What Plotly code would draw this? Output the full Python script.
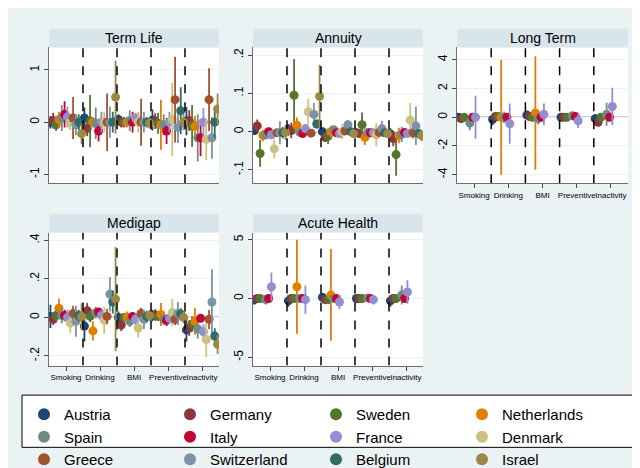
import plotly.graph_objects as go

countries = ["Austria", "Germany", "Sweden", "Netherlands", "Spain", "Italy",
             "France", "Denmark", "Greece", "Switzerland", "Belgium", "Israel"]
colors = ["#1a476f", "#90353b", "#55752f", "#e37e00", "#6e8e84", "#c10534",
          "#938dd2", "#cac27e", "#a0522d", "#7b92a8", "#2d6d66", "#9c8847"]
groups = ["Smoking", "Drinking", "BMI", "Preventive", "Inactivity"]

# estimates / CI half-widths, rows = groups, columns = countries (None = not estimated)
term_est = [
    [0.0, 0.03, -0.05, 0.05, 0.08, 0.15, 0.1, 0.0, 0.08, -0.05, 0.0, -0.22],
    [0.08, -0.12, 0.02, 0.0, -0.02, -0.17, 0.0, 0.0, 0.0, 0.0, 0.0, 0.48],
    [0.05, 0.0, 0.0, 0.0, 0.03, 0.0, 0.08, 0.0, 0.0, 0.0, 0.0, -0.02],
    [0.04, 0.02, -0.02, -0.05, -0.05, -0.17, 0.0, 0.05, 0.43, -0.1, 0.22, 0.0],
    [0.02, 0.03, -0.07, -0.08, -0.3, -0.3, 0.0, -0.33, 0.43, -0.3, 0.0, 0.25],
]
term_ci = [
    [0.12, 0.15, 0.12, 0.15, 0.25, 0.25, 0.2, 0.15, 0.4, 0.2, 0.15, 0.2],
    [0.2, 0.15, 0.5, 0.1, 0.3, 0.2, 0.2, 0.2, 0.55, 0.3, 0.2, 0.7],
    [0.1, 0.1, 0.1, 0.1, 0.2, 0.2, 0.1, 0.2, 0.45, 0.2, 0.1, 0.1],
    [0.2, 0.15, 0.2, 0.48, 0.2, 0.25, 0.2, 0.7, 0.82, 0.3, 0.45, 0.15],
    [0.27, 0.2, 0.4, 0.2, 0.45, 0.35, 0.27, 0.4, 0.6, 0.4, 0.3, 0.3],
]
annuity_est = [
    [0.003, 0.015, -0.057, -0.01, -0.008, 0.0, -0.008, -0.045, -0.003, -0.003, -0.003, -0.002],
    [0.005, 0.003, 0.095, 0.017, -0.002, -0.005, 0.008, 0.052, -0.004, 0.045, 0.02, 0.092],
    [0.0, -0.015, -0.012, 0.0, 0.005, -0.003, -0.005, 0.0, 0.002, 0.018, 0.0, -0.005],
    [-0.003, -0.005, 0.018, -0.015, -0.002, -0.003, -0.003, -0.008, -0.002, 0.008, -0.003, -0.005],
    [-0.006, -0.018, -0.06, -0.01, -0.007, -0.002, -0.005, 0.03, -0.003, 0.015, -0.005, -0.01],
]
annuity_ci = [
    [0.012, 0.017, 0.035, 0.015, 0.012, 0.01, 0.01, 0.025, 0.01, 0.03, 0.015, 0.02],
    [0.015, 0.02, 0.095, 0.02, 0.01, 0.01, 0.012, 0.033, 0.01, 0.03, 0.012, 0.083],
    [0.01, 0.012, 0.02, 0.015, 0.01, 0.01, 0.01, 0.02, 0.01, 0.012, 0.01, 0.01],
    [0.01, 0.01, 0.032, 0.02, 0.01, 0.01, 0.01, 0.03, 0.01, 0.02, 0.01, 0.01],
    [0.015, 0.02, 0.055, 0.02, 0.02, 0.01, 0.01, 0.045, 0.015, 0.05, 0.01, 0.015],
]
longterm_est = [
    [0.0, -0.1, 0.0, None, -0.4, 0.0, 0.0] + [None] * 5,
    [-0.15, 0.05, 0.05, 0.0, 0.0, 0.0, -0.45] + [None] * 5,
    [0.15, 0.05, 0.0, 0.3, -0.1, 0.0, 0.2] + [None] * 5,
    [0.0, 0.0, 0.0, None, 0.1, 0.05, -0.25] + [None] * 5,
    [-0.1, -0.35, 0.0, None, 0.2, 0.0, 0.75] + [None] * 5,
]
longterm_ci = [
    [0.3, 0.25, 0.15, 0, 0.5, 0.15, 1.5] + [0] * 5,
    [0.4, 0.2, 0.15, 4.0, 0.4, 0.15, 1.4] + [0] * 5,
    [0.2, 0.15, 0.15, 3.95, 0.4, 0.15, 0.75] + [0] * 5,
    [0.15, 0.15, 0.15, 0, 0.2, 0.15, 0.5] + [0] * 5,
    [0.3, 0.25, 0.2, 0, 0.8, 0.2, 1.3] + [0] * 5,
]
acute_est = [
    [-0.1, 0.0, 0.0, None, -0.1, 0.0, 1.0] + [None] * 5,
    [-0.2, 0.0, 0.0, 1.0, 0.0, 0.0, -0.1] + [None] * 5,
    [0.1, -0.1, -0.1, 0.3, 0.0, 0.0, -0.3] + [None] * 5,
    [0.0, 0.0, 0.0, None, 0.05, 0.0, -0.1] + [None] * 5,
    [-0.2, 0.0, 0.0, None, 0.3, 0.0, 0.55] + [None] * 5,
]
acute_ci = [
    [0.4, 0.2, 0.2, 0, 0.4, 0.2, 1.2] + [0] * 5,
    [0.5, 0.2, 0.2, 4.0, 0.3, 0.2, 1.2] + [0] * 5,
    [0.3, 0.2, 0.2, 3.9, 0.3, 0.2, 0.6] + [0] * 5,
    [0.2, 0.2, 0.2, 0, 0.2, 0.2, 0.4] + [0] * 5,
    [0.5, 0.2, 0.2, 0, 0.8, 0.2, 1.0] + [0] * 5,
]
medigap_est = [
    [0.005, -0.01, 0.01, 0.048, 0.01, 0.01, 0.0, -0.03, 0.02, -0.02, 0.01, 0.003],
    [-0.045, 0.035, 0.005, -0.07, 0.025, 0.028, 0.01, -0.015, 0.005, 0.12, 0.08, 0.095],
    [0.0, -0.04, 0.0, 0.0, -0.02, 0.005, -0.01, -0.055, 0.02, -0.01, 0.005, 0.01],
    [0.01, 0.012, 0.005, 0.015, -0.01, -0.015, -0.005, 0.025, -0.01, 0.02, 0.018, 0.0],
    [-0.065, -0.055, -0.035, -0.02, -0.06, -0.005, -0.075, -0.115, -0.01, 0.08, -0.097, -0.14],
]
medigap_ci = [
    [0.06, 0.03, 0.03, 0.05, 0.04, 0.03, 0.04, 0.05, 0.04, 0.08, 0.03, 0.07],
    [0.08, 0.04, 0.03, 0.05, 0.03, 0.02, 0.03, 0.07, 0.04, 0.09, 0.06, 0.27],
    [0.03, 0.03, 0.02, 0.03, 0.03, 0.02, 0.03, 0.05, 0.03, 0.05, 0.03, 0.03],
    [0.03, 0.03, 0.02, 0.06, 0.03, 0.03, 0.03, 0.07, 0.03, 0.06, 0.03, 0.03],
    [0.06, 0.04, 0.04, 0.07, 0.05, 0.02, 0.04, 0.09, 0.05, 0.17, 0.04, 0.05],
]

W, H = 640, 468
def fx(px): return px / W
def fy(py): return 1 - py / H

panels = [
    dict(title="Term Life", est=term_est, ci=term_ci, x=(41, 211), y=(40, 178),
         yr=[-1.17, 1.43], tv=[-1, 0, 1], tt=["-1", "0", "1"], xl=False),
    dict(title="Annuity", est=annuity_est, ci=annuity_ci, x=(245, 415), y=(40, 178),
         yr=[-0.135, 0.22], tv=[-0.1, 0, 0.1, 0.2], tt=["-.1", "0", ".1", ".2"], xl=False),
    dict(title="Long Term", est=longterm_est, ci=longterm_ci, x=(449, 620), y=(40, 178),
         yr=[-4.6, 4.86], tv=[-4, -2, 0, 2, 4], tt=["-4", "-2", "0", "2", "4"], xl=True),
    dict(title="Medigap", est=medigap_est, ci=medigap_ci, x=(41, 211), y=(228, 363),
         yr=[-0.25, 0.44], tv=[-0.2, 0, 0.2, 0.4], tt=["-.2", "0", ".2", ".4"], xl=True),
    dict(title="Acute Health", est=acute_est, ci=acute_ci, x=(245, 415), y=(228, 363),
         yr=[-5.7, 5.6], tv=[-5, 0, 5], tt=["-5", "0", "5"], xl=True),
]

fig = go.Figure()
shapes, annotations = [], []
for pi, p in enumerate(panels):
    n = "" if pi == 0 else str(pi + 1)
    xa, ya = "x" + n, "y" + n
    fig.update_layout({
        "xaxis" + n: dict(domain=[fx(p["x"][0]), fx(p["x"][1])], range=[0, 5],
                          anchor=ya, showgrid=False, zeroline=False, showline=True,
                          linecolor="#6e6e6e", ticks="outside" if p["xl"] else "",
                          tickvals=[0.5, 1.5, 2.5, 3.5, 4.5], tickangle=0, automargin=False,
                          ticktext=groups if p["xl"] else [""] * 5, ticklen=4,
                          tickfont=dict(size=8, color="black")),
        "yaxis" + n: dict(domain=[fy(p["y"][1]), fy(p["y"][0])], range=p["yr"],
                          anchor=xa, tickvals=p["tv"], ticktext=p["tt"], tickangle=-90,
                          automargin=False,
                          showgrid=True, gridcolor="#eaf2f3", zeroline=False,
                          showline=True, linecolor="#6e6e6e", ticks="outside", ticklen=4,
                          tickfont=dict(size=12, color="black")),
    })
    for v in [1, 2, 3, 4]:
        shapes.append(dict(type="line", xref=xa, yref=ya, x0=v, x1=v, y0=p["yr"][0], y1=p["yr"][1],
                           line=dict(color="black", width=1.5, dash="dash")))
    shapes.append(dict(type="line", xref=xa, yref=ya, x0=0, x1=5, y0=0, y1=0,
                       line=dict(color="#c10534", width=1.2), layer="below"))
    shapes.append(dict(type="rect", xref="paper", yref="paper",
                       x0=fx(p["x"][0]), x1=fx(p["x"][1]), y0=fy(p["y"][0]), y1=fy(p["y"][0] - 19),
                       fillcolor="#d8e5ea", line=dict(width=0)))
    annotations.append(dict(text=p["title"], xref="paper", yref="paper",
                            x=(fx(p["x"][0]) + fx(p["x"][1])) / 2, y=fy(p["y"][0] - 9.5),
                            xanchor="center", yanchor="middle",
                            showarrow=False, font=dict(size=14, color="black")))
    for k, c in enumerate(countries):
        xs, ys, es = [], [], []
        for g in range(5):
            v = p["est"][g][k]
            if v is None:
                continue
            xs.append(g + (k + 0.5) / 12)
            ys.append(v)
            es.append(p["ci"][g][k])
        if not xs:
            continue
        fig.add_trace(go.Scatter(
            x=xs, y=ys, mode="markers", name=c, xaxis=xa, yaxis=ya,
            legendgroup=c, showlegend=(pi == 0),
            marker=dict(color=colors[k], size=9),
            error_y=dict(type="data", array=es, visible=True, color=colors[k],
                         thickness=1.8, width=0),
        ))

shapes.append(dict(type="rect", xref="paper", yref="paper", x0=fx(14), x1=fx(627),
                   y0=fy(446), y1=fy(393), fillcolor="white",
                   line=dict(color="black", width=1), layer="below"))
fig.update_layout(
    width=W, height=H, margin=dict(l=0, r=0, t=0, b=0),
    paper_bgcolor="#eaf2f3", plot_bgcolor="white",
    shapes=shapes, annotations=annotations,
    font=dict(family="Liberation Sans, Arial, sans-serif", color="black"),
    legend=dict(orientation="h", x=fx(16), y=fy(396), xanchor="left", yanchor="top",
                entrywidth=101, bgcolor="rgba(0,0,0,0)", font=dict(size=15),
                itemsizing="constant", tracegroupgap=0),
)
fig.write_html("out.html")
